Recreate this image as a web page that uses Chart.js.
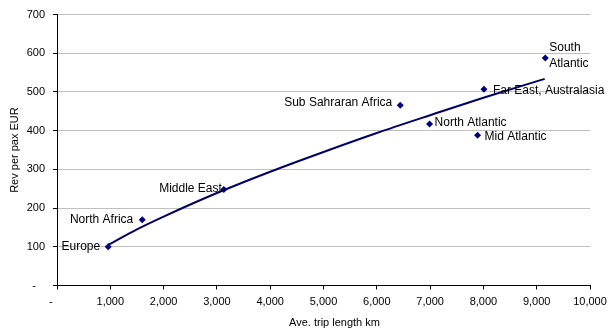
<!DOCTYPE html>
<html>
<head>
<meta charset="utf-8">
<script src="https://cdn.jsdelivr.net/npm/chart.js@4/dist/chart.umd.min.js"></script>
<style>
  body { margin: 0; background: #fff; }
  canvas { display: block; }
</style>
</head>
<body>
<canvas id="tripChart" width="615" height="336"></canvas>
<script>
// regions, average trip length (km) and revenue per passenger (EUR)
var regions = ["Europe", "North Africa", "Middle East", "Sub Sahraran Africa",
               "North Atlantic", "Mid Atlantic", "Far East, Australasia", "South Atlantic"];
var tripKm = [960, 1600, 3130, 6440, 6990, 7890, 8010, 9160];
var revPerPax = [100, 170, 248, 466, 417, 388, 507, 588];

// power trendline
var trendKm = [950, 1500, 2000, 3000, 4000, 5000, 6000, 7000, 8000, 9150];
var trendRev = [104, 145, 178, 239, 294, 345, 394, 440, 485, 534];

var xTicks = [0, 1000, 2000, 3000, 4000, 5000, 6000, 7000, 8000, 9000, 10000];
var yTicks = [0, 100, 200, 300, 400, 500, 600, 700];

var FONT = "'Liberation Sans', Arial, sans-serif";

// where each label sits next to its marker
var labelPlacement = {
    "Europe": { align: "right", dx: -8, dy: 0 },
    "North Africa": { align: "right", dx: -9, dy: 0 },
    "Middle East": { align: "right", dx: -2, dy: -1 },
    "Sub Sahraran Africa": { align: "right", dx: -8, dy: -2 },
    "North Atlantic": { align: "left", dx: 5, dy: -1 },
    "Mid Atlantic": { align: "left", dx: 7, dy: 1 },
    "Far East, Australasia": { align: "left", dx: 9, dy: 1 },
    "South Atlantic": { align: "left", dx: 4, dy: 0, lines: ["South", "Atlantic"] }
};

var points = tripKm.map(function (x, i) { return { x: x, y: revPerPax[i] }; });
var trend = trendKm.map(function (x, i) { return { x: x, y: trendRev[i] }; });

var pointLabels = {
    id: "pointLabels",
    afterDatasetsDraw: function (chart) {
        var ctx = chart.ctx;
        var meta = chart.getDatasetMeta(1);
        var area = chart.chartArea;
        ctx.save();
        ctx.font = "12px " + FONT;
        ctx.fillStyle = "#000";
        ctx.textBaseline = "middle";
        meta.data.forEach(function (el, i) {
            var p = labelPlacement[regions[i]];
            ctx.textAlign = p.align;
            if (p.lines) {
                ctx.fillText(p.lines[0], el.x + p.dx, el.y - 10);
                ctx.fillText(p.lines[1], el.x + p.dx, el.y + 6);
            } else {
                ctx.fillText(regions[i], el.x + p.dx, el.y + p.dy);
            }
        });
        // x axis title, a little right of the plot centre
        ctx.font = "11px " + FONT;
        ctx.textAlign = "center";
        ctx.fillText("Ave. trip length km", (area.left + area.right) / 2 + 11, 323);
        ctx.restore();
    }
};

function fmt(v, pad) {
    return v === 0 ? "-" + pad : v.toLocaleString("en-US");
}

var ctx = document.getElementById("tripChart");
var myChart = new Chart(ctx, {
    type: "scatter",
    data: {
        datasets: [
            {
                data: trend,
                showLine: true,
                borderColor: "#000066",
                borderWidth: 2,
                pointRadius: 0,
                cubicInterpolationMode: "monotone",
                fill: false
            },
            {
                data: points,
                pointStyle: "rectRot",
                pointRadius: 3.5,
                backgroundColor: "#000080",
                borderColor: "#000080",
                borderWidth: 0
            }
        ]
    },
    options: {
        responsive: false,
        animation: false,
        layout: { padding: { top: 13, right: 25, left: 0, bottom: 0 } },
        plugins: {
            legend: { display: false },
            tooltip: { enabled: false }
        },
        scales: {
            x: {
                type: "linear",
                min: 0,
                max: 10000,
                afterBuildTicks: function (axis) {
                    axis.ticks = xTicks.map(function (v) { return { value: v }; });
                },
                afterFit: function (axis) { axis.height = 50.5; },
                grid: {
                    drawOnChartArea: false,
                    tickLength: 4,
                    tickColor: "#000"
                },
                border: { color: "#000", width: 1 },
                ticks: {
                    padding: 6,
                    maxRotation: 0,
                    color: "#000",
                    font: { family: FONT, size: 11 },
                    callback: function (v) { return fmt(v, "    "); }
                },
                title: { display: false }
            },
            y: {
                min: 0,
                max: 700,
                afterBuildTicks: function (axis) {
                    axis.ticks = yTicks.map(function (v) { return { value: v }; });
                },
                afterFit: function (axis) { axis.width = 57; },
                grid: {
                    color: "#c0c0c0",
                    tickLength: 4,
                    tickColor: "#000"
                },
                border: { color: "#000", width: 1 },
                ticks: {
                    padding: 8,
                    color: "#000",
                    font: { family: FONT, size: 11 },
                    callback: function (v) { return fmt(v, "   "); }
                },
                title: {
                    display: true,
                    text: "Rev per pax EUR",
                    color: "#000",
                    padding: { top: 8, bottom: 0 },
                    font: { family: FONT, size: 11 }
                }
            }
        }
    },
    plugins: [pointLabels]
});
</script>
</body>
</html>
